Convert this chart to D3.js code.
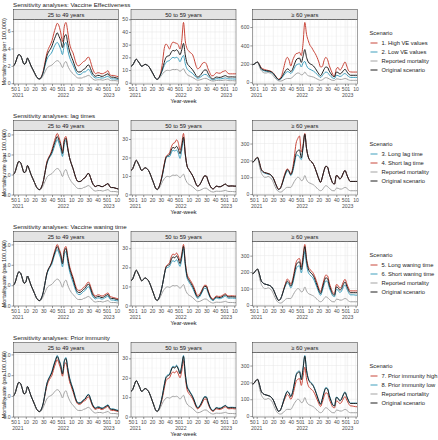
<!DOCTYPE html>
<html><head><meta charset="utf-8">
<script src="https://cdn.jsdelivr.net/npm/d3@7"></script>
<style>body{margin:0;background:#fff}svg text{font-family:"Liberation Sans",Arial,sans-serif}</style>
</head><body><svg id="c" width="438" height="440"></svg>
<script>
// ---- DATA ----
// week index: 0 = 2021 week 1 (2020 has 53 ISO weeks)
const weeks = [-5,-3,-1,1,3,5,7,9,11,13,15,17,19,21,23,25,27,29,31,33,35,37,39,41,43,45,47,49,51,53,55,57,59,61,63,65,67,69,71,73,75,77,79,81,83,85,87,89,91,93,95,97,99,101,103,105,107,109,111,113,115];
const xTickWeeks = [-4,0,9,19,29,39,49,52,61,71,81,91,101,104,113];
const xTickLabels = ["50","1","10","20","30","40","50","1","10","20","30","40","50","1","10"];
const yearTickWeeks = [0,52,104];
const yearLabels = ["2021","2022","2023"];
const ageGroups = ["25 to 49 years","50 to 59 years","\u2265 60 years"];
const rowTitles = ["Sensitivity analyses: Vaccine Effectiveness","Sensitivity analyses: lag times","Sensitivity analyses: Vaccine waning time","Sensitivity analyses: Prior immunity"];
const reportedLabel = "Reported mortality";
const originalLabel = "Original scenario";
const scenarioNames = [["1. High VE values","2. Low VE values"],["3. Long lag time","4. Short lag time"],["5. Long waning time","6. Short waning time"],["7. Prior immunity high","8. Prior immunity low"]];
const yTicks = [
 [[0,2,4,6],[0,10,20,30,40,50],[0,200,400,600]],
 [[0,2,4,6],[0,10,20,30],[0,100,200,300]],
 [[0,2,4,6],[0,10,20,30],[0,100,200,300]],
 [[0,2,4,6],[0,10,20,30],[0,100,200,300]]
];

// 25 to 49 years
const original_A = [2.0,2.3,2.9,3.3,3.2,2.7,2.2,2.3,2.9,2.5,2.0,1.6,1.2,0.8,0.55,0.5,0.75,1.3,2.2,3.1,3.6,3.9,4.3,4.9,5.4,5.8,5.4,4.9,4.1,5.3,5.6,4.6,3.7,3.1,2.6,2.0,1.5,1.3,1.3,1.4,1.6,1.7,2.0,2.1,1.7,1.2,0.9,0.8,0.9,0.9,0.8,0.8,0.9,1.0,1.1,0.8,0.7,0.7,0.65,0.6,0.55];
const reported_A = [2.0,2.3,2.9,3.3,3.2,2.7,2.2,2.3,2.9,2.5,2.0,1.6,1.2,0.8,0.55,0.45,0.6,0.9,1.3,1.7,1.9,2.0,2.1,2.3,2.5,2.6,2.5,2.2,1.8,2.3,2.5,2.0,1.6,1.3,1.1,0.9,0.7,0.6,0.6,0.6,0.7,0.75,0.85,0.9,0.75,0.55,0.4,0.35,0.4,0.4,0.4,0.35,0.4,0.45,0.5,0.35,0.3,0.3,0.3,0.28,0.25];
const s1_A = [2.0,2.3,2.9,3.3,3.2,2.7,2.2,2.3,2.9,2.5,2.0,1.6,1.2,0.8,0.55,0.5,0.8,1.4,2.4,3.4,4.0,4.4,4.9,5.7,6.4,6.9,6.6,5.8,4.8,6.5,7.0,5.9,4.6,3.9,3.5,2.8,2.2,2.0,2.1,2.3,2.5,2.6,2.9,3.0,2.5,1.8,1.3,1.1,1.2,1.2,1.1,1.1,1.2,1.3,1.45,1.0,0.9,0.9,0.85,0.8,0.75];
const s2_A = [2.0,2.3,2.9,3.3,3.2,2.7,2.2,2.3,2.9,2.5,2.0,1.6,1.2,0.8,0.55,0.5,0.7,1.2,2.0,2.7,3.1,3.3,3.6,4.1,4.5,4.7,4.4,3.9,3.3,4.4,4.7,3.8,3.0,2.5,2.1,1.6,1.2,1.0,1.0,1.1,1.3,1.3,1.5,1.6,1.3,0.9,0.7,0.6,0.65,0.65,0.6,0.6,0.65,0.75,0.8,0.6,0.5,0.5,0.5,0.45,0.45];
const s3_A = [2.0,2.3,2.9,3.3,3.2,2.7,2.2,2.3,2.9,2.5,2.0,1.6,1.2,0.8,0.55,0.5,0.75,1.3,2.2,3.0,3.5,3.8,4.1,4.6,5.1,5.5,5.1,4.5,3.8,5.0,5.4,4.5,3.7,3.1,2.6,2.0,1.5,1.3,1.3,1.4,1.6,1.7,2.0,2.1,1.7,1.2,0.9,0.8,0.9,0.9,0.8,0.8,0.9,1.0,1.1,0.8,0.7,0.7,0.65,0.6,0.55];
const s4_A = [2.0,2.3,2.9,3.3,3.2,2.7,2.2,2.3,2.9,2.5,2.0,1.6,1.2,0.8,0.55,0.5,0.75,1.3,2.2,3.2,3.7,4.0,4.5,5.1,5.7,6.1,5.7,5.1,4.3,5.5,5.8,4.7,3.7,3.1,2.6,2.0,1.5,1.3,1.3,1.4,1.6,1.7,2.0,2.1,1.7,1.2,0.9,0.8,0.9,0.9,0.8,0.8,0.9,1.0,1.1,0.8,0.7,0.7,0.65,0.6,0.55];
const s5_A = [2.0,2.3,2.9,3.3,3.2,2.7,2.2,2.3,2.9,2.5,2.0,1.6,1.2,0.8,0.55,0.5,0.75,1.3,2.2,3.1,3.6,3.9,4.4,5.0,5.6,6.0,5.6,5.1,4.3,5.5,5.8,4.8,3.9,3.3,2.8,2.2,1.7,1.5,1.5,1.6,1.8,1.9,2.2,2.3,1.9,1.4,1.05,0.95,1.05,1.05,0.95,0.95,1.05,1.15,1.25,0.95,0.85,0.8,0.75,0.7,0.65];
const s6_A = [2.0,2.3,2.9,3.3,3.2,2.7,2.2,2.3,2.9,2.5,2.0,1.6,1.2,0.8,0.55,0.5,0.75,1.3,2.2,3.0,3.5,3.8,4.1,4.7,5.2,5.5,5.1,4.6,3.8,5.0,5.3,4.3,3.4,2.8,2.3,1.75,1.3,1.1,1.1,1.2,1.4,1.5,1.75,1.85,1.5,1.0,0.75,0.65,0.75,0.75,0.65,0.65,0.75,0.85,0.95,0.65,0.55,0.55,0.5,0.48,0.45];
const s7_A = [2.0,2.3,2.9,3.3,3.2,2.7,2.2,2.3,2.9,2.5,2.0,1.6,1.2,0.8,0.55,0.5,0.75,1.25,2.1,2.9,3.4,3.7,4.0,4.6,5.1,5.5,5.1,4.6,3.9,4.9,5.2,4.3,3.4,2.9,2.4,1.85,1.4,1.2,1.2,1.3,1.5,1.55,1.8,1.9,1.55,1.1,0.8,0.7,0.8,0.8,0.7,0.7,0.8,0.9,1.0,0.7,0.6,0.6,0.58,0.53,0.5];
const s8_A = [2.0,2.3,2.9,3.3,3.2,2.7,2.2,2.3,2.9,2.5,2.0,1.6,1.2,0.8,0.55,0.5,0.75,1.3,2.2,3.15,3.65,4.0,4.4,5.0,5.5,5.9,5.5,5.0,4.2,5.4,5.7,4.7,3.8,3.2,2.7,2.1,1.55,1.35,1.35,1.45,1.65,1.75,2.05,2.15,1.75,1.25,0.95,0.85,0.95,0.95,0.85,0.85,0.95,1.05,1.15,0.85,0.75,0.75,0.7,0.65,0.6];

// 50 to 59 years
const original_B = [13,14,16.5,18.5,17,15,13,13.5,14.5,14,13,11,8.5,6,3.5,2.7,4,7,11,16,20,21,21.5,24,25.5,25,26,24.5,22,26,31,22,15.5,13.5,12,10.5,8.5,6,4.5,5,6.5,8.5,10,10,7.5,5,3.5,3,4,4.5,4.2,4.2,4.6,5.2,5.6,4.8,4.5,4.6,4.6,4.5,4.5];
const reported_B = [13,14,16.5,18.5,17,15,13,13.5,14.5,14,13,11,8.5,6,3.5,2.5,3.3,5,7,8.5,9.5,9.8,9.5,10,10.5,10.3,10.5,10,9,10,11,8.5,6.5,5.5,5,4.3,3.5,2.6,2,2.1,2.5,3,3.4,3.4,2.7,2,1.5,1.3,1.6,1.8,1.7,1.7,1.8,2,2.2,1.8,1.6,1.6,1.6,1.5,1.5];
const s1_B = [13,14,16.5,18.5,17,15,13,13.5,14.5,14,13,11,8.5,6,3.5,2.7,4.2,8,16,27,30.5,29,26.5,30,32,31.5,31,30,26.5,33,47.5,33,27,25,23.5,22.5,19,14,11,11.5,13.5,15.5,16,15,11,8,5.5,5.5,7,8,7.5,7.5,8.5,9,9.5,8,7,7,7,7,7];
const s2_B = [13,14,16.5,18.5,17,15,13,13.5,14.5,14,13,11,8.5,6,3.5,2.7,3.8,6.5,10,13.5,16,17,17.5,19,20,19.5,20,19,16.5,19.5,21.5,15,11,9.5,8.5,7.5,6,4.5,3.5,3.8,4.8,5.8,6.5,6.5,5,3.6,2.6,2.2,2.8,3.2,3,3,3.2,3.5,3.8,3.2,3,3,3,2.9,2.9];
const s3_B = [13,14,16.5,18.5,17,15,13,13.5,14.5,14,13,11,8.5,6,3.5,2.7,4,6.8,10.5,15.5,19.5,20.5,20.5,22.5,24,23.5,24,22.5,19.5,24,30,21.5,15.5,13.5,12,10.5,8.5,6,4.5,5,6.5,8.5,10,10,7.5,5,3.5,3,4,4.5,4.2,4.2,4.6,5.2,5.6,4.8,4.5,4.6,4.6,4.5,4.5];
const s4_B = [13,14,16.5,18.5,17,15,13,13.5,14.5,14,13,11,8.5,6,3.5,2.7,4,7.2,11.5,16.5,20.5,21.5,22.5,25.5,27.5,28,29.5,28,24,27.5,33,22.5,15.5,13.5,12,10.5,8.5,6,4.5,5,6.5,8.5,10,10,7.5,5,3.5,3,4,4.5,4.2,4.2,4.6,5.2,5.6,4.8,4.5,4.6,4.6,4.5,4.5];
const s5_B = [13,14,16.5,18.5,17,15,13,13.5,14.5,14,13,11,8.5,6,3.5,2.7,4,7,11,16,20.5,21.5,22.5,25.5,27,26.5,27.5,26,23.5,27,32,23,16.5,14.5,13,11.5,9.5,7,5.3,5.8,7.1,9.1,10.6,10.6,8.1,5.5,4,3.5,4.5,5,4.8,4.8,5.2,5.8,6.2,5.3,5,5.1,5.1,5,5];
const s6_B = [13,14,16.5,18.5,17,15,13,13.5,14.5,14,13,11,8.5,6,3.5,2.7,4,7,11,16,19.5,20,20.5,22.5,23.5,23,24,22.5,20.5,24.5,30,21,14.5,12.5,11,9.5,7.5,5.3,3.8,4.3,5.8,7.6,9,9,6.8,4.5,3,2.6,3.5,4,3.6,3.6,4,4.5,5,4.1,3.8,3.9,3.9,3.8,3.8];
const s7_B = [13,14,16.5,18.5,17,15,13,13.5,14.5,14,13,11,8.5,6,3.5,2.7,3.8,6.5,10,14.5,18.5,19.5,20,22,23,22.5,23.5,22,20,23.5,29,20.5,14,12,10.8,9.5,7.6,5.3,4,4.5,5.8,7.6,9,9,6.7,4.5,3.1,2.7,3.6,4,3.7,3.7,4.1,4.6,5,4.3,4,4.1,4.1,4,4];
const s8_B = [13,14,16.5,18.5,17,15,13,13.5,14.5,14,13,11,8.5,6,3.5,2.7,4.1,7.2,11.3,16.5,20.5,21.5,22,24.5,26,25.5,26.5,25,22.5,26.5,31.5,22.5,16,14,12.4,10.9,8.8,6.3,4.8,5.3,6.8,8.8,10.3,10.3,7.8,5.2,3.7,3.2,4.2,4.7,4.4,4.4,4.8,5.4,5.8,5,4.7,4.8,4.8,4.7,4.7];

// 60 years and over
const original_C = [190,195,210,218,190,150,135,128,125,122,118,110,95,70,45,28,35,60,95,125,145,135,115,140,190,240,258,262,215,280,355,270,220,200,190,175,150,120,90,70,100,140,165,160,120,90,65,60,110,105,90,100,125,140,115,90,75,75,75,75,75];
const reported_C = [190,195,210,218,170,130,110,100,100,105,100,90,70,45,25,15,12,15,25,35,40,40,40,55,75,90,100,95,80,85,110,85,70,65,60,55,45,35,25,20,25,40,50,45,35,25,20,20,35,35,30,30,35,40,35,25,20,20,20,20,20];
const s1_C = [190,195,210,218,195,160,145,138,132,128,124,115,100,75,48,32,45,85,160,235,270,240,175,235,280,310,315,325,290,420,650,520,450,400,375,340,310,270,220,165,170,235,270,245,180,130,85,65,145,160,130,150,190,220,175,125,112,110,110,110,110];
const s2_C = [190,195,210,216,185,145,128,122,118,115,112,104,90,66,42,25,30,50,75,100,115,110,95,115,150,185,195,200,165,210,225,180,150,140,130,120,105,85,65,50,70,95,110,105,80,60,45,40,75,72,62,68,85,95,78,62,52,52,52,52,52];
const s3_C = [190,195,208,214,183,143,130,124,121,118,115,107,92,68,43,26,33,57,90,118,138,128,110,130,175,225,232,220,205,275,355,270,220,200,190,175,150,120,90,70,100,140,165,160,120,90,65,60,110,105,90,100,125,140,115,90,75,75,75,75,75];
const s4_C = [190,195,210,218,190,150,135,128,125,122,118,110,95,70,45,28,35,62,100,132,150,138,118,150,220,300,330,345,250,290,360,270,220,200,190,175,150,120,90,70,100,140,165,160,120,90,65,60,110,105,90,100,125,140,115,90,75,75,75,75,75];
const s5_C = [190,195,210,218,190,150,135,128,125,122,118,110,95,70,45,28,35,60,98,132,158,148,127,153,205,258,278,282,232,298,368,282,233,215,205,190,165,135,102,82,114,156,182,177,134,102,76,70,124,119,103,113,140,156,129,102,86,86,86,86,86];
const s6_C = [190,195,210,218,190,150,135,128,125,122,118,110,95,70,45,28,35,60,92,118,135,124,104,127,172,218,235,238,195,255,325,245,198,182,172,158,134,106,78,59,86,123,146,142,105,78,55,51,95,90,76,85,108,122,99,76,62,62,62,60,60];
const s7_C = [190,195,210,218,190,150,135,128,125,122,118,110,95,70,45,28,35,60,88,112,128,118,100,120,162,205,218,222,182,235,290,220,180,165,157,145,124,99,74,57,82,116,138,134,100,74,53,49,90,86,74,82,103,116,95,74,61,60,58,56,55];
const s8_C = [190,195,210,218,190,150,135,128,125,122,118,110,95,70,45,28,35,60,97,128,148,138,118,144,195,246,264,268,220,286,360,274,224,205,195,180,154,123,92,72,103,144,170,165,124,93,67,62,113,108,93,103,129,144,118,93,77,77,77,77,77];

// ---- assemble ----
const originals = [original_A, original_B, original_C];
const reporteds = [reported_A, reported_B, reported_C];
const scenarioData = [
  [[s1_A,s1_B,s1_C],[s2_A,s2_B,s2_C]],
  [[s3_A,s3_B,s3_C],[s4_A,s4_B,s4_C]],
  [[s5_A,s5_B,s5_C],[s6_A,s6_B,s6_C]],
  [[s7_A,s7_B,s7_C],[s8_A,s8_B,s8_C]]
];
const RED = "#C8463A", BLUE = "#3F9FBD", GREY = "#A3A3A3", BLACK = "#1E1E1E";
const scenarioColors = [[RED,BLUE],[BLUE,RED],[RED,BLUE],[RED,BLUE]];

// ---- layout ----
const svg = d3.select("#c");
const panelX = [13.5, 131, 252.3], PW = 105, ROWH = 111;
const xDomain = [-5, 115];
const FS_TICK = 5.1, FS_STRIP = 5.8, FS_TITLE = 6.2, FS_LEG = 5.8, FS_AXT = 5.6;

svg.append("defs");
let clipId = 0;

for (let r = 0; r < 4; r++) {
  const top = ROWH * r;
  const pt = top + 19.5, pb = top + 84;
  svg.append("text").attr("x", 13).attr("y", top + 6.6).attr("font-size", FS_TITLE).attr("fill", "#1a1a1a").text(rowTitles[r]);

  for (let p = 0; p < 3; p++) {
    const px = panelX[p];
    const x = d3.scaleLinear().domain(xDomain).range([px, px + PW]);
    const series = [scenarioData[r][0][p], scenarioData[r][1][p], reporteds[p], originals[p]];
    const [mn, mx] = d3.extent(series.flat());
    const pad = (mx - mn) * 0.05;
    const y = d3.scaleLinear().domain([mn - pad, mx + pad]).range([pb, pt]);
    const g = svg.append("g");

    // strip
    g.append("rect").attr("x", px).attr("y", top + 9.5).attr("width", PW).attr("height", 10)
      .attr("fill", "#e3e3e3").attr("stroke", "#333").attr("stroke-width", 0.5);
    g.append("text").attr("x", px + PW / 2).attr("y", top + 16.6).attr("text-anchor", "middle")
      .attr("font-size", FS_STRIP).attr("fill", "#1a1a1a").text(ageGroups[p]);

    // grid
    const yt = yTicks[r][p];
    const step = yt[1] - yt[0];
    const yMinor = [yt[0] - step / 2].concat(yt.map(v => v + step / 2));
    const xMinor = [];
    for (let i = 0; i < xTickWeeks.length - 1; i++) xMinor.push((xTickWeeks[i] + xTickWeeks[i + 1]) / 2);
    const grid = g.append("g");
    yMinor.filter(v => y(v) < pb && y(v) > pt).forEach(v => grid.append("line").attr("x1", px).attr("x2", px + PW).attr("y1", y(v)).attr("y2", y(v)).attr("stroke", "#f1f1f1").attr("stroke-width", 0.35));
    xMinor.forEach(v => grid.append("line").attr("x1", x(v)).attr("x2", x(v)).attr("y1", pt).attr("y2", pb).attr("stroke", "#f1f1f1").attr("stroke-width", 0.35));
    yt.forEach(v => grid.append("line").attr("x1", px).attr("x2", px + PW).attr("y1", y(v)).attr("y2", y(v)).attr("stroke", "#e8e8e8").attr("stroke-width", 0.55));
    xTickWeeks.forEach(v => grid.append("line").attr("x1", x(v)).attr("x2", x(v)).attr("y1", pt).attr("y2", pb).attr("stroke", "#e8e8e8").attr("stroke-width", 0.55));

    // clip
    const cid = "clip" + (clipId++);
    svg.select("defs").append("clipPath").attr("id", cid).append("rect").attr("x", px).attr("y", pt).attr("width", PW).attr("height", pb - pt);

    const line = d3.line().x((d, i) => x(weeks[i])).y(d => y(d)).curve(d3.curveMonotoneX);
    const colors = [scenarioColors[r][0], scenarioColors[r][1], GREY, BLACK];
    const lg = g.append("g").attr("clip-path", `url(#${cid})`);
    series.forEach((s, k) => {
      lg.append("path").attr("d", line(s)).attr("fill", "none").attr("stroke", colors[k])
        .attr("stroke-width", 1.0).attr("stroke-linejoin", "round");
    });

    // border
    g.append("rect").attr("x", px).attr("y", pt).attr("width", PW).attr("height", pb - pt)
      .attr("fill", "none").attr("stroke", "#444").attr("stroke-width", 0.5);

    // axes
    const xa = g.append("g").attr("transform", `translate(0,${pb})`)
      .call(d3.axisBottom(x).tickValues(xTickWeeks).tickFormat((d, i) => xTickLabels[i]).tickSize(2).tickPadding(1));
    const ya = g.append("g").attr("transform", `translate(${px},0)`)
      .call(d3.axisLeft(y).tickValues(yt).tickSize(2).tickPadding(1));
    [xa, ya].forEach(a => {
      a.select(".domain").remove();
      a.attr("font-family", null).attr("font-size", null);
      a.selectAll(".tick line").attr("stroke", "#333").attr("stroke-width", 0.5);
      a.selectAll(".tick text").attr("font-size", FS_TICK).attr("fill", "#4d4d4d");
    });
    // "50" and "1" sit 4 weeks apart and nearly touch, as in the original
    xa.selectAll(".tick text").attr("dx", (d, i) => xTickLabels[i + 1] === "1" ? -0.9 : (xTickLabels[i] === "1" ? 0.5 : 0));
    yearTickWeeks.forEach((w, i) => {
      g.append("text").attr("x", x(w)).attr("y", pb + 12.6).attr("text-anchor", "middle")
        .attr("font-size", FS_TICK).attr("fill", "#4d4d4d").text(yearLabels[i]);
    });
  }

  // axis titles
  svg.append("text").attr("transform", `translate(6.2,${(pt + pb) / 2}) rotate(-90)`).attr("text-anchor", "middle")
    .attr("font-size", FS_AXT).attr("fill", "#1a1a1a").text("Mortality rate (per 100,000)");
  svg.append("text").attr("x", panelX[1] + PW / 2).attr("y", top + 103).attr("text-anchor", "middle")
    .attr("font-size", FS_AXT).attr("fill", "#1a1a1a").text("Year-week");

  // legend
  const items = [
    {label: scenarioNames[r][0], color: scenarioColors[r][0]},
    {label: scenarioNames[r][1], color: scenarioColors[r][1]},
    {label: reportedLabel, color: GREY},
    {label: originalLabel, color: BLACK}
  ];
  svg.append("text").attr("x", 369.5).attr("y", top + 35).attr("font-size", FS_LEG).attr("fill", "#1a1a1a").text("Scenario");
  items.forEach((it, j) => {
    const cy = top + 43 + 9 * j;
    svg.append("line").attr("x1", 370.5).attr("x2", 377.5).attr("y1", cy).attr("y2", cy)
      .attr("stroke", it.color).attr("stroke-width", 1.0);
    svg.append("text").attr("x", 381.5).attr("y", cy + 2).attr("font-size", FS_LEG).attr("fill", "#1a1a1a").text(it.label);
  });
}
</script></body></html>
